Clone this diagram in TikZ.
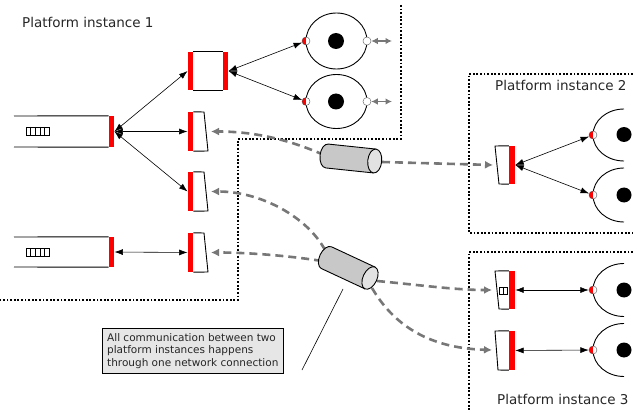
\documentclass[tikz,border=0pt]{standalone}
\usepackage{fontspec}
\setmainfont{DejaVu Sans}
\usetikzlibrary{arrows.meta,shapes.geometric}
\definecolor{netgray}{HTML}{777777}
\definecolor{cylbody}{HTML}{C8C8C8}
\definecolor{cylcap}{HTML}{E2E2E2}
\definecolor{callbg}{HTML}{E6E6E6}
\begin{document}
\begin{tikzpicture}[x=1pt,y=-1pt,
  redbar/.style={rectangle, fill=red, draw=none, minimum width=5.5pt, inner sep=0pt},
  prt/.style={circle, minimum size=8pt, inner sep=0pt, draw=black!70, line width=0.4pt, fill=white,
    path picture={\fill[red] (path picture bounding box.north west) rectangle (path picture bounding box.south);}},
  wprt/.style={circle, minimum size=8pt, inner sep=0pt, draw=black!55, line width=0.5pt, fill=white},
  link/.style={line width=0.6pt, {Latex[length=8.5pt,width=6pt]}-{Latex[length=8.5pt,width=6pt]}},
  garrow/.style={netgray, line width=1.3pt, {Latex[length=6.5pt,width=6.5pt]}-{Latex[length=6.5pt,width=6.5pt]}},
  net/.style={netgray, line width=2.6pt, dash pattern=on 8pt off 5pt, -{Latex[length=8pt,width=8pt]}},
  border/.style={line width=1.2pt, dash pattern=on 1.8pt off 1.8pt},
  outl/.style={line width=0.9pt},
  dotnode/.style={circle, fill=black, inner sep=0pt},
  lbl/.style={font=\fontsize{13.5}{16}\selectfont, anchor=base west, inner sep=0pt, text=black!85},
  netcyl/.pic={
    \fill[cylbody] (0,-12) -- (48,-12) -- (48,12) -- (0,12) arc[start angle=90,end angle=270,x radius=7,y radius=12] -- cycle;
    \draw[outl] (48,12) -- (0,12) arc[start angle=90,end angle=270,x radius=7,y radius=12] -- (48,-12);
    \draw[outl, fill=cylcap] (48,0) ellipse[x radius=7, y radius=12];
  }
]
\useasboundingbox (0,0) rectangle (633,412);

% ---------- platform boundaries ----------
\draw[border] (401,5) -- (401,139) -- (238,139) -- (238,300) -- (0,300);
\draw[border] (633,74) -- (469,74) -- (469,233) -- (633,233);
\draw[border] (633,252) -- (469,252) -- (469,412);

\node[lbl] (L1) at (22,27.3) {Platform instance 1};
\node[lbl] (L2) at (495,91) {Platform instance 2};
\node[lbl] (L3) at (497,404) {Platform instance 3};

% ---------- platform 1 ----------
\node[redbar, minimum height=31pt] (qb1) at (111.5,131.5) {};
\node[redbar, minimum height=30pt] (qb2) at (111.5,252) {};
\draw[outl] (14,116) -- (qb1.north west) (14,147) -- (qb1.south west);
\draw[outl] (14,237) -- (qb2.north west) (14,267) -- (qb2.south west);
\foreach \yy in {127,248} {
  \draw[line width=0.5pt] (26,\yy) rectangle (49,\yy+8);
  \foreach \k in {1,...,4} \draw[line width=0.5pt] (26+4.6*\k,\yy) -- (26+4.6*\k,\yy+8);
}

\node[redbar, minimum height=38pt] (sqL) at (190.5,71) {};
\node[redbar, minimum height=38pt] (sqR) at (225.5,71) {};
\draw[outl] (sqL.north east) -- (sqR.north west) (sqL.south east) -- (sqR.south west);

\node[redbar, minimum height=39pt] (t1) at (190.5,131.5) {};
\node[redbar, minimum height=39pt] (t2) at (190.5,191.5) {};
\node[redbar, minimum height=39pt] (t3) at (190.5,252.5) {};
\draw[outl] (t1.north east) -- (204,112) -- (208,151) -- (t1.south east);
\draw[outl] (t2.north east) -- (204,172) -- (208,211) -- (t2.south east);
\draw[outl] (t3.north east) -- (204,233) -- (208,272) -- (t3.south east);

\node[ellipse, draw, outl, minimum width=61pt, minimum height=56pt, inner sep=0pt] (e1) at (336.5,41) {};
\node[ellipse, draw, outl, minimum width=61pt, minimum height=54pt, inner sep=0pt] (e2) at (336.5,101.5) {};
\node[dotnode, minimum size=16pt] (d1) at (336,41) {};
\node[dotnode, minimum size=16pt] (d2) at (336,101.5) {};
\node[prt] (p1a) at (306,41) {};
\node[prt] (p1b) at (306,101.5) {};
\node[wprt] (r1a) at (367,41) {};
\node[wprt] (r1b) at (367,101.5) {};
\coordinate (g1) at (392,41);
\coordinate (g2) at (392,101.5);
\draw[garrow] (r1a) -- (g1);
\draw[garrow] (r1b) -- (g2);

\draw[link] (sqR.east) -- (p1a);
\draw[link] (sqR.east) -- (p1b);
\draw[link] (qb1.east) -- (sqL.west);
\draw[link] (qb1.east) -- (t1.west);
\draw[link] (qb1.east) -- (t2.west);
\draw[link] (qb2.east) -- (t3.west);

% ---------- platform 2 ----------
\node[redbar, minimum height=38pt, minimum width=6pt] (u1) at (512,165) {};
\draw[outl] (u1.north west) -- (495,146) -- (499,184) -- (u1.south west);
\draw[outl] (624,109) arc[start angle=270, end angle=90, x radius=31, y radius=26];
\draw[outl] (624,168) arc[start angle=270, end angle=90, x radius=31, y radius=27];
\node[dotnode, minimum size=15pt] (d3) at (624,134.5) {};
\node[dotnode, minimum size=15pt] (d4) at (624,195) {};
\node[prt] (q2a) at (593,135) {};
\node[prt] (q2b) at (593,195) {};
\draw[link] (u1.east) -- (q2a);
\draw[link] (u1.east) -- (q2b);

% ---------- platform 3 ----------
\node[redbar, minimum height=38pt, minimum width=6pt] (v1) at (512,290) {};
\node[redbar, minimum height=39pt, minimum width=6pt] (v2) at (512,350.5) {};
\draw[outl] (v1.north west) -- (495,271) -- (499,309) -- (v1.south west);
\draw[outl] (v2.north west) -- (495,331) -- (498,370) -- (v2.south west);
\draw[line width=0.5pt] (499,287) rectangle (507,294) (503,287) -- (503,294);
\draw[outl] (624,263.5) arc[start angle=270, end angle=90, x radius=31, y radius=26.5];
\draw[outl] (624,323.5) arc[start angle=270, end angle=90, x radius=31, y radius=26.5];
\node[dotnode, minimum size=15pt] (d5) at (624,290) {};
\node[dotnode, minimum size=15pt] (d6) at (624,350) {};
\node[prt] (q3a) at (593,290) {};
\node[prt] (q3b) at (593,350) {};
\draw[link] (v1.east) -- (q3a);
\draw[link] (v2.east) -- (q3b);

% ---------- network connections ----------
\coordinate (t1in) at (211,131.5);
\coordinate (t2in) at (211,191.5);
\coordinate (t3in) at (211,252.5);
\coordinate (u1in) at (493,165);
\coordinate (v1in) at (492,290);
\coordinate (v2in) at (492,350);
\coordinate (c1w) at (324,155);
\coordinate (c1e) at (382,162);
\coordinate (c2n) at (325,250);
\coordinate (c2w) at (322,261);
\coordinate (c2e) at (377,281);
\coordinate (c2s) at (372,288);

\draw[net] (c1w) .. controls (290,140) and (255,131.5) .. (t1in);
\draw[net] (c1e) -- (u1in);
\draw[net] (c2n) .. controls (308,218) and (262,191.5) .. (t2in);
\draw[net] (c2w) .. controls (290,256) and (250,252.5) .. (t3in);
\draw[net] (c2e) .. controls (420,285) and (455,290) .. (v1in);
\draw[net] (c2s) .. controls (392,322) and (425,348) .. (v2in);

\pic[rotate=-6] at (327,156) {netcyl};
\pic[rotate=-25] at (326.5,257.7) {netcyl};

% ---------- callout ----------
\node[draw, fill=callbg, line width=0.6pt, anchor=north west, minimum width=181pt, minimum height=45pt,
  align=left, inner sep=0pt, font=\fontsize{10.5}{12.5}\selectfont, text=black!85] (call) at (102,328)
  {All communication between two\\platform instances happens\\through one network connection};
\coordinate (ptA) at (302,370);
\coordinate (ptB) at (343,289);
\draw[line width=0.6pt] (ptA) -- (ptB);
\end{tikzpicture}
\end{document}
